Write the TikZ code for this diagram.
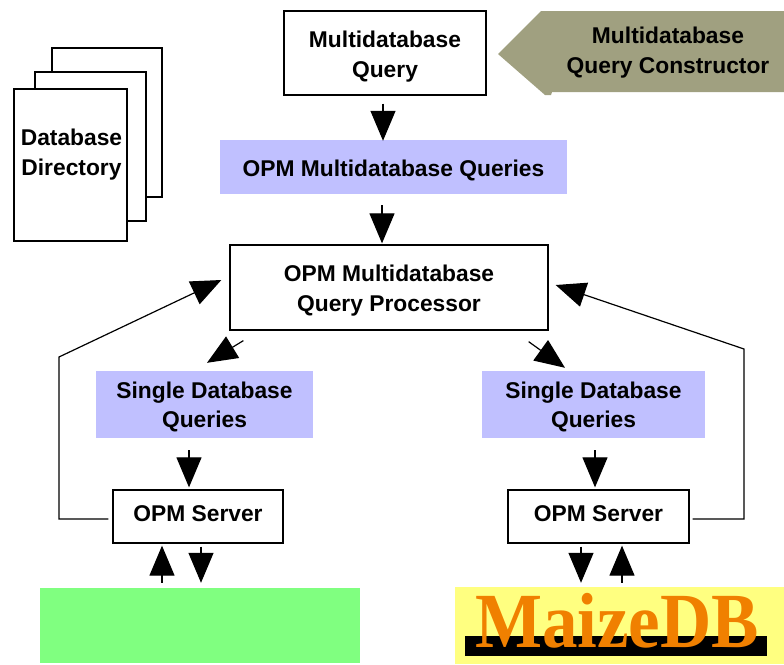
\documentclass[tikz,border=0pt]{standalone}
\usepackage{fontspec}
\setmainfont{Liberation Sans}
\newfontfamily\logofont{Liberation Serif}
\usetikzlibrary{arrows.meta}
\definecolor{bandblue}{HTML}{C0C0FF}
\definecolor{dbgreen}{HTML}{80FF80}
\definecolor{logoyellow}{HTML}{FFFF80}
\definecolor{logoorange}{HTML}{F08000}
\definecolor{olive}{HTML}{A0A080}
\newcommand{\lowline}[1]{\rule{0pt}{#1pt}}
\begin{document}
\begin{tikzpicture}[x=1pt, y=-1pt]
		\tikzset{nd/.style={inner sep=0pt, align=center, font=\fontsize{22.8}{30}\selectfont\bfseries},
			bx/.style={nd, draw=black, line width=1.3pt, fill=white},
			band/.style={nd, fill=bandblue},
			low/.style={execute at begin node={\rule{0pt}{22.5pt}}},
			high/.style={execute at end node={\rule[-6pt]{0pt}{6pt}}},
			arr/.style={line width=1.2pt, -{Triangle[length=30pt, width=25pt]}}};

		\useasboundingbox (0, 0) rectangle (784, 664);

		\node[bx, minimum width=110pt, minimum height=149pt] (page3) at (107, 122.5) {};
		\node[bx, minimum width=111pt, minimum height=149pt] (page2) at (90.5, 146.5) {};
		\node[bx, minimum width=113pt, minimum height=152pt] (page1) at (70.5, 165) {};
		\node[nd] (directory) at (71.5, 155) {Database\\Directory};

		\node[bx, minimum width=202pt, minimum height=84pt] (query) at (385, 53) {\lowline{23}Multidatabase\\Query};

		\fill[olive] (498, 54) -- (541, 11) -- (784, 11) -- (784, 92) -- (552, 92) -- (551, 95) -- (545, 95) -- cycle;
		\node[nd] (constructor) at (668, 52.5) {Multidatabase\\Query Constructor};

		\node[band, low, minimum width=347pt, minimum height=54pt] (opmq) at (393.5, 167) {OPM Multidatabase Queries};
		\node[bx, minimum width=318pt, minimum height=85pt] (proc) at (389, 287.5) {\lowline{23}OPM Multidatabase\\Query Processor};

		\node[band, minimum width=217pt, minimum height=67pt, font=\fontsize{22.8}{28.5}\selectfont\bfseries] (singlel) at (204.5, 404.5) {\lowline{21}Single Database\\Queries};
		\node[band, minimum width=223pt, minimum height=67pt, font=\fontsize{22.8}{28.5}\selectfont\bfseries] (singler) at (593.5, 404.5) {\lowline{21}Single Database\\Queries};

		\node[bx, high, minimum width=170pt, minimum height=53pt] (serverl) at (198, 516.5) {OPM Server};
		\node[bx, high, minimum width=181pt, minimum height=53pt] (serverr) at (598.5, 516.5) {OPM Server};

		\node[fill=dbgreen, minimum width=320pt, minimum height=75pt, inner sep=0pt] (dbl) at (200, 625.5) {};
		\node[fill=logoyellow, minimum width=329pt, minimum height=77pt, inner sep=0pt] (dbr) at (619.5, 625.5) {};
		\node[fill=black, minimum width=302pt, minimum height=20pt, inner sep=0pt] (logobar) at (616, 646) {};
		\node[inner sep=0pt, text=logoorange] (logo) at (617, 621) {\scalebox{1}[1.1]{\logofont\bfseries\fontsize{71}{71}\selectfont MaizeDB}};

		\coordinate (lbenda) at (59, 519);
		\coordinate (lbendb) at (59, 357);
		\coordinate (rbenda) at (744, 519);
		\coordinate (rbendb) at (744, 349);

		\draw[arr] ([shift={(-2, 8)}]query.south) to ([shift={(-2, 1)}]query.south |- opmq.north);
		\draw[arr] ([shift={(-11.5, 11)}]opmq.south) to ([shift={(-7, -1)}]proc.north);

		\draw[arr] ([shift={(14, 10)}]proc.south west) to ([shift={(2.5, -8)}]singlel.north);
		\draw[arr] ([shift={(-20, 11)}]proc.south east) to ([shift={(-28.5, -3)}]singler.north);

		\draw[arr] ([shift={(-15.5, 12)}]singlel.south) to ([shift={(-9, -2)}]serverl.north);
		\draw[arr] ([shift={(1.5, 12)}]singler.south) to ([shift={(-3.5, -2)}]serverr.north);

		\draw[arr] ([shift={(-4, 2.5)}]serverl.west) -- (lbenda) -- (lbendb) -- ([shift={(-8, -7.5)}]proc.west);
		\draw[arr] ([shift={(3, 2.5)}]serverr.east) -- (rbenda) -- (rbendb) -- ([shift={(7, -2.5)}]proc.east);

		\draw[arr] ([shift={(-38, -5)}]dbl.north) to ([shift={(-36, 2)}]serverl.south);
		\draw[arr] ([shift={(3, 3)}]serverl.south) to ([shift={(1, -5)}]dbl.north);

		\draw[arr] ([shift={(-17.5, 3)}]serverr.south) to ([shift={(-38.5, -4)}]dbr.north);
		\draw[arr] ([shift={(2.5, -4)}]dbr.north) to ([shift={(23.5, 2)}]serverr.south);
	\end{tikzpicture}
\end{document}
